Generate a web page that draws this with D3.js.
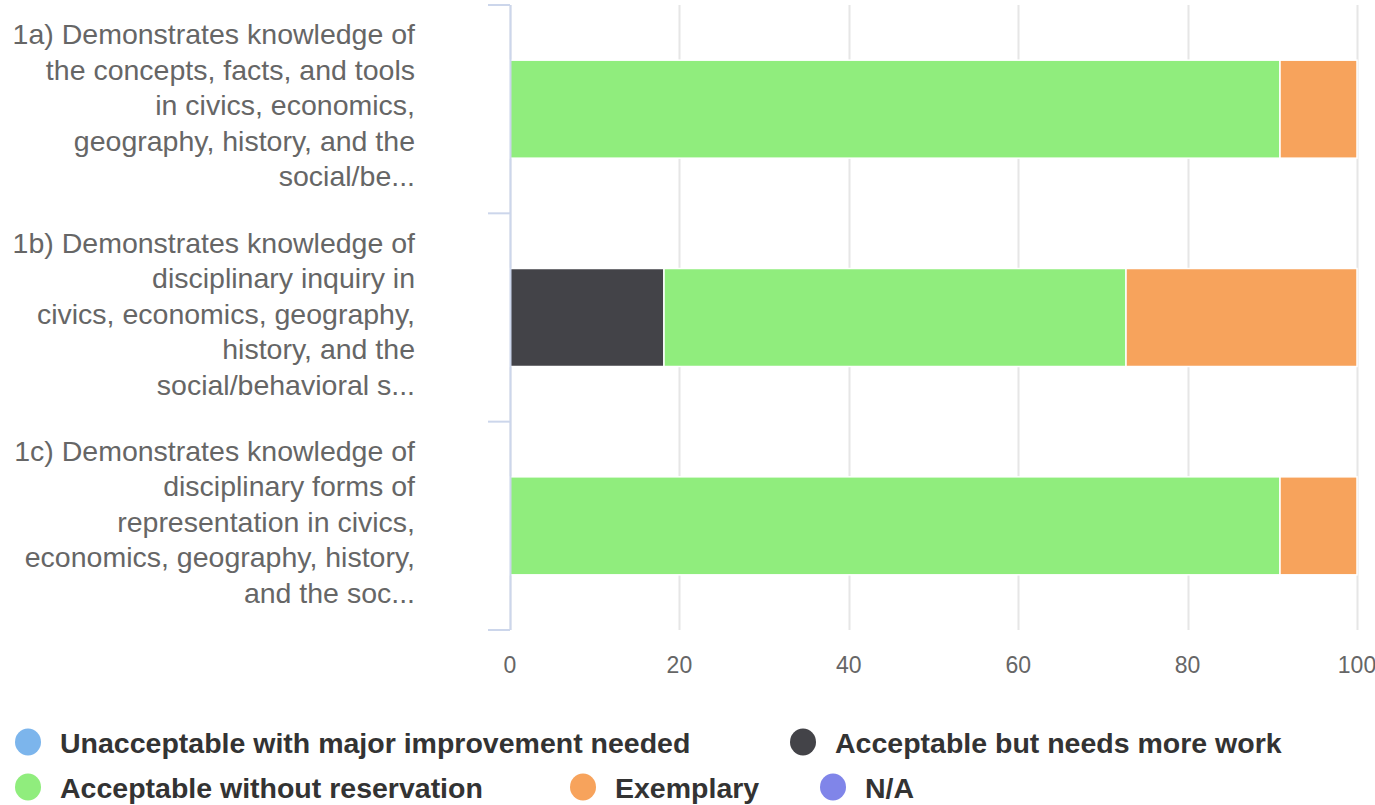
<!DOCTYPE html>
<html>
<head>
<meta charset="utf-8">
<script src="https://cdn.jsdelivr.net/npm/d3@7"></script>
<style>
  body { margin: 0; background: #fff; }
  svg { font-family: "Liberation Sans", Arial, sans-serif; }
</style>
</head>
<body>
<div id="chart"></div>
<script>
// categories (label lines as shown, already truncated)
var categories = ["1a", "1b", "1c"];
var labelLines = [
  ["1a) Demonstrates knowledge of", "the concepts, facts, and tools", "in civics, economics,", "geography, history, and the", "social/be..."],
  ["1b) Demonstrates knowledge of", "disciplinary inquiry in", "civics, economics, geography,", "history, and the", "social/behavioral s..."],
  ["1c) Demonstrates knowledge of", "disciplinary forms of", "representation in civics,", "economics, geography, history,", "and the soc..."]
];

// series (percent of responses)
var seriesNames = ["Unacceptable with major improvement needed", "Acceptable but needs more work",
                   "Acceptable without reservation", "Exemplary", "N/A"];
var seriesColors = ["#7cb5ec", "#434348", "#90ed7d", "#f7a35c", "#8085e9"];
var unacceptable = [0, 0, 0];
var needsWork = [0, 18.18, 0];
var withoutReservation = [90.91, 54.55, 90.91];
var exemplary = [9.09, 27.27, 9.09];
var na = [0, 0, 0];
var xTicks = [0, 20, 40, 60, 80, 100];

var seriesValues = [unacceptable, needsWork, withoutReservation, exemplary, na];

var W = 1375, H = 805;
var margin = { top: 5, right: 18, bottom: 175, left: 510 };
var width = W - margin.left - margin.right;
var height = H - margin.top - margin.bottom;

var svg = d3.select('#chart').append('svg')
  .attr('width', W).attr('height', H);

var chart = svg.append('g')
  .attr('transform', 'translate(' + margin.left + ',' + margin.top + ')');

var x = d3.scaleLinear().domain([0, 100]).range([0, width]);
var y = d3.scaleBand().domain(categories).range([0, height]).paddingInner(0).paddingOuter(0);

// stack rows
var rows = categories.map(function(c, i) {
  var row = { cat: c };
  seriesNames.forEach(function(s, j) { row[s] = seriesValues[j][i]; });
  return row;
});
var stack = d3.stack().keys(seriesNames)(rows);

///////////////////////
// grid
chart.append('g').selectAll('line')
  .data(xTicks)
  .enter().append('line')
  .attr('x1', function(d) { return Math.round(x(d)) + 0.5; })
  .attr('x2', function(d) { return Math.round(x(d)) + 0.5; })
  .attr('y1', 0).attr('y2', height)
  .attr('stroke', '#e6e6e6').attr('stroke-width', 2);

// x labels
chart.append('g').selectAll('text')
  .data(xTicks)
  .enter().append('text')
  .attr('x', function(d) { return x(d); })
  .attr('y', height + 43)
  .attr('text-anchor', 'middle')
  .attr('fill', '#666')
  .attr('font-size', '23px')
  .text(function(d) { return d; });

///////////////////////
// bars
var barH = 98;
chart.append('g').selectAll('g')
  .data(stack)
  .enter().append('g')
  .attr('fill', function(d, i) { return seriesColors[i]; })
  .selectAll('rect')
  .data(function(d) { return d; })
  .enter().append('rect')
  .filter(function(d) { return d[1] - d[0] > 0; })
  .attr('x', function(d) { return x(d[0]); })
  .attr('y', function(d) { return y(d.data.cat) + y.bandwidth() / 2 - barH / 2; })
  .attr('width', function(d) { return x(d[1]) - x(d[0]); })
  .attr('height', barH)
  .attr('stroke', '#fff')
  .attr('stroke-width', 1.5);

///////////////////////
// y axis
var yAxis = chart.append('g');
yAxis.append('line')
  .attr('x1', 0.5).attr('x2', 0.5).attr('y1', 0).attr('y2', height)
  .attr('stroke', '#ccd6eb').attr('stroke-width', 2);
var bounds = categories.map(function(c) { return y(c); }).concat([height]);
yAxis.selectAll('.tick')
  .data(bounds)
  .enter().append('line')
  .attr('class', 'tick')
  .attr('x1', -22).attr('x2', 0)
  .attr('y1', function(d) { return d; }).attr('y2', function(d) { return d; })
  .attr('stroke', '#ccd6eb').attr('stroke-width', 2);

// y labels
var lineH = 35.5;
categories.forEach(function(c, i) {
  var lines = labelLines[i];
  var cy = y(c) + y.bandwidth() / 2 - 4;
  var t = chart.append('text')
    .attr('text-anchor', 'end')
    .attr('fill', '#666')
    .attr('font-size', '28.5px');
  lines.forEach(function(l, k) {
    t.append('tspan')
      .attr('x', -95)
      .attr('y', cy + (k - (lines.length - 1) / 2) * lineH + 10)
      .text(l);
  });
});

///////////////////////
// legend
var legendItems = [
  { name: seriesNames[0], color: seriesColors[0], cx: 28, cy: 742 },
  { name: seriesNames[1], color: seriesColors[1], cx: 803, cy: 742 },
  { name: seriesNames[2], color: seriesColors[2], cx: 28, cy: 787 },
  { name: seriesNames[3], color: seriesColors[3], cx: 583, cy: 787 },
  { name: seriesNames[4], color: seriesColors[4], cx: 833, cy: 787 }
];
var leg = svg.append('g').selectAll('g')
  .data(legendItems)
  .enter().append('g');
leg.append('ellipse')
  .attr('cx', function(d) { return d.cx; })
  .attr('cy', function(d) { return d.cy; })
  .attr('rx', 13).attr('ry', 13.5)
  .attr('fill', function(d) { return d.color; });
leg.append('text')
  .attr('x', function(d) { return d.cx + 32; })
  .attr('y', function(d) { return d.cy + 11; })
  .attr('fill', '#333')
  .attr('font-weight', 'bold')
  .attr('font-size', '28.5px')
  .text(function(d) { return d.name; });
</script>
</body>
</html>
